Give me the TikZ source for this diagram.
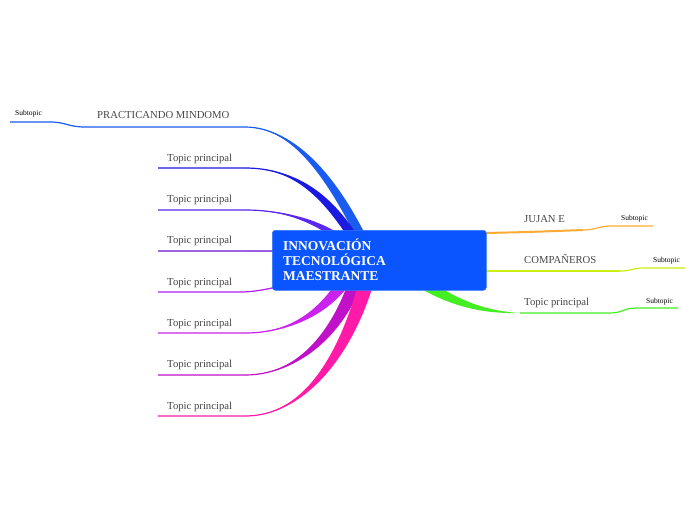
\documentclass[tikz,border=0pt]{standalone}
\usepackage{fontspec}
\setmainfont{Liberation Serif}
\definecolor{cb1}{HTML}{1A5CF0}
\definecolor{cb2}{HTML}{1A1AE0}
\definecolor{cb3}{HTML}{5A28EE}
\definecolor{cb4}{HTML}{6A10D8}
\definecolor{cb5}{HTML}{B020F0}
\definecolor{cb6}{HTML}{CC22EE}
\definecolor{cb7}{HTML}{C010C8}
\definecolor{cb8}{HTML}{FF1AA8}
\definecolor{cor}{HTML}{FFAA33}
\definecolor{cye}{HTML}{CCEE11}
\definecolor{cgr}{HTML}{44EE22}
\definecolor{boxblue}{HTML}{0A55FF}
\definecolor{boxline}{HTML}{3377FF}
% #1 name, #2 colour, #3 free end, #4 start of curve, #5,#6 controls, #7 end, #8 half width, #9 vertical shift of 2nd control
\newcommand\lbranch[9]{%
  \coordinate (#1L) at (#3);
  \coordinate (#1H) at (#4);
  \coordinate (#1A) at (#5);
  \coordinate (#1B) at (#6);
  \coordinate (#1E) at (#7);
  \fill[#2] (#1H) .. controls (#1A) and ([xshift=-#8pt,yshift=-#9pt]#1B) .. ([xshift=-#8pt]#1E) -- ([xshift=#8pt]#1E) .. controls ([xshift=#8pt,yshift=#9pt]#1B) and (#1A) .. (#1H) -- cycle;
  \draw[#2, line width=1.2pt] (#1L) -- (#1H) .. controls (#1A) and (#1B) .. (#1E);}
\begin{document}
\begin{tikzpicture}[x=1pt,y=-1pt,
  topic/.style={font=\fontsize{10.7}{12}\selectfont, text=black!72, anchor=base west, inner sep=0},
  sub/.style={font=\fontsize{7.5}{9}\selectfont, text=black, anchor=base west, inner sep=0},
  title/.style={font=\fontsize{13.5}{15}\selectfont\bfseries, text=white, anchor=base west, inner sep=0}]
\useasboundingbox (0,0) rectangle (696,520);
\fill[white] (0,0) rectangle (696,520);

% left branches
\coordinate (s1a) at (10,122);
\coordinate (s1b) at (50,122);
\lbranch{b1}{cb1}{85,127}{245,127}{295,127}{335,180}{370,255}{5}{3}
\draw[cb1, line width=1.2pt] (s1a) -- (s1b) .. controls (66,122) and (68,127) .. (b1L);
\lbranch{b2}{cb2}{158,168}{245,168}{295,168}{330,195}{364,255}{5}{3}
\lbranch{b3}{cb3}{158,210}{245,210}{295,210}{335,228}{362,258}{5}{3}
\lbranch{b4}{cb4}{158,251}{245,251}{280,251}{320,251}{355,254}{2.5}{0}
\lbranch{b5}{cb5}{158,292}{240,292}{262,292}{290,285}{350,265}{4}{0}
\lbranch{b6}{cb6}{158,333}{245,333}{300,333}{335,302}{352,268}{7}{-3}
\lbranch{b7}{cb7}{158,375}{245,375}{305,375}{345,322}{360,268}{7}{-3}
\lbranch{b8}{cb8}{158,416}{245,416}{315,416}{355,332}{370,268}{7.5}{-3}

% right branches
\coordinate (r1s) at (486,233);
\coordinate (r1m) at (583,230);
\coordinate (r1e) at (653,226);
\draw[cor, line width=2pt] (r1s) .. controls (530,232) .. (r1m);
\draw[cor, line width=1.2pt] (r1m) .. controls (597,230) and (597,226) .. (612,226) -- (r1e);
\coordinate (r2s) at (486,271);
\coordinate (r2m) at (620,271);
\coordinate (r2e) at (685,268);
\draw[cye, line width=1.6pt] (r2s) -- (r2m);
\draw[cye, line width=1.2pt] (r2m) .. controls (632,271) and (632,268) .. (645,268) -- (r2e);
\coordinate (r3s) at (420,288);
\coordinate (r3m) at (520,313);
\coordinate (r3e) at (678,308);
\fill[cgr] (r3s) .. controls (452,307) and (485,314) .. (r3m) .. controls (485,311) and (460,300) .. (436,285) -- cycle;
\draw[cgr, line width=1.2pt] (r3m) -- (610,313) .. controls (623,313) and (623,308) .. (637,308) -- (r3e);

% central box
\node[fill=boxblue, draw=boxline, line width=0.6pt, rounded corners=3pt, minimum width=214pt, minimum height=60pt, anchor=north west, inner sep=0] (center) at (272,230) {};
\node[title] (t1) at (283,250) {INNOVACIÓN};
\node[title] (t2) at (283,265) {TECNOLÓGICA};
\node[title] (t3) at (283,280) {MAESTRANTE};

% labels
\node[sub] (ls1) at (15,115) {Subtopic};
\node[topic] (l1) at (97,118) {PRACTICANDO MINDOMO};
\node[topic] (l2) at (167,161) {Topic principal};
\node[topic] (l3) at (167,202) {Topic principal};
\node[topic] (l4) at (167,243) {Topic principal};
\node[topic] (l5) at (167,285) {Topic principal};
\node[topic] (l6) at (167,326) {Topic principal};
\node[topic] (l7) at (167,367) {Topic principal};
\node[topic] (l8) at (167,409) {Topic principal};

\node[topic] (r1) at (524,222) {JUJAN E};
\node[sub] (rs1) at (621,220) {Subtopic};
\node[topic] (r2) at (524,263) {COMPAÑEROS};
\node[sub] (rs2) at (653,262) {Subtopic};
\node[topic] (r3) at (524,305) {Topic principal};
\node[sub] (rs3) at (646,303) {Subtopic};
\end{tikzpicture}
\end{document}
